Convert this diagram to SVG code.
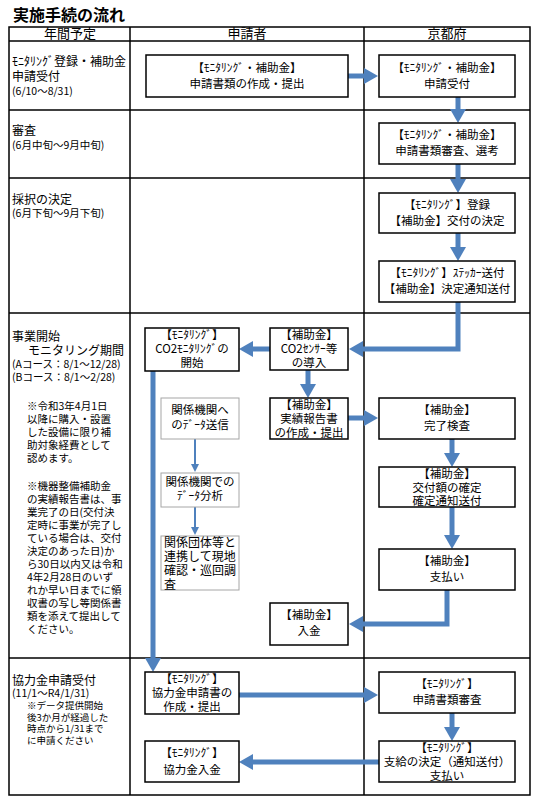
<svg xmlns="http://www.w3.org/2000/svg" width="536" height="800" viewBox="0 0 536 800">
<style>
text{font-family:"Noto Sans CJK JP","Noto Sans",sans-serif;fill:#000}
.t{font-size:12px}
.s{font-size:10.5px}
.n{font-size:10.5px}
.m{font-size:9.5px}
.c{font-size:11.5px;text-anchor:middle}
.h{font-size:13px;text-anchor:middle}
.grid{stroke:#000;stroke-width:1.5;fill:none}
.box{fill:#fff;stroke:#000;stroke-width:1.5}
.gbox{fill:#fff;stroke:#a6a6a6;stroke-width:1}
.arr{fill:none;stroke:#4f81bd;stroke-width:5;marker-end:url(#ah)}
.thin{fill:none;stroke:#4f81bd;stroke-width:2;marker-end:url(#ahs)}
</style>
<defs>
<marker id="ah" viewBox="0 0 14 16" refX="2" refY="8" markerWidth="14" markerHeight="16" markerUnits="userSpaceOnUse" orient="auto"><path d="M0 0L14 8L0 16Z" fill="#4f81bd"/></marker>
<marker id="ahs" viewBox="0 0 8 8" refX="1" refY="4" markerWidth="8" markerHeight="8" markerUnits="userSpaceOnUse" orient="auto"><path d="M0 0L8 4L0 8Z" fill="#4f81bd"/></marker>
</defs>
<rect width="536" height="800" fill="#fff"/>
<text x="13" y="21" style="font-size:16px;font-weight:bold">実施手続の流れ</text>
<g id="table">
<rect class="grid" x="9" y="27" width="521" height="768"/>
<line class="grid" x1="130" y1="27" x2="130" y2="795"/>
<line class="grid" x1="364" y1="27" x2="364" y2="795"/>
<line class="grid" x1="9" y1="41" x2="530" y2="41"/>
<line class="grid" x1="9" y1="110" x2="530" y2="110"/>
<line class="grid" x1="9" y1="178" x2="530" y2="178"/>
<line class="grid" x1="9" y1="313" x2="530" y2="313"/>
<line class="grid" x1="9" y1="658" x2="530" y2="658"/>
<text class="h" x="70" y="38">年間予定</text>
<text class="h" x="247" y="38">申請者</text>
<text class="h" x="447" y="38">京都府</text>
</g>
<g id="schedule">
<text class="t" x="12" y="66">ﾓﾆﾀﾘﾝｸﾞ登録・補助金</text>
<text class="t" x="12" y="81">申請受付</text>
<text class="s" x="12" y="95">(6/10～8/31)</text>
<text class="t" x="12" y="135">審査</text>
<text class="s" x="12" y="149">(6月中旬～9月中旬)</text>
<text class="t" x="12" y="204">採択の決定</text>
<text class="s" x="12" y="217">(6月下旬～9月下旬)</text>
<text class="t" x="12" y="341">事業開始</text>
<text class="t" x="28" y="355">モニタリング期間</text>
<text class="s" x="12" y="368">(Aコース：8/1～12/28)</text>
<text class="s" x="12" y="381">(Bコース：8/1～2/28)</text>
<text class="n" x="27" y="410">※令和3年4月1日</text>
<text class="n" x="27" y="423">以降に購入・設置</text>
<text class="n" x="27" y="436">した設備に限り補</text>
<text class="n" x="27" y="449">助対象経費として</text>
<text class="n" x="27" y="462">認めます。</text>
<text class="n" x="27" y="490">※機器整備補助金</text>
<text class="n" x="27" y="503">の実績報告書は、事</text>
<text class="n" x="27" y="516">業完了の日(交付決</text>
<text class="n" x="27" y="529">定時に事業が完了し</text>
<text class="n" x="27" y="542">ている場合は、交付</text>
<text class="n" x="27" y="555">決定のあった日)か</text>
<text class="n" x="27" y="568">ら30日以内又は令和</text>
<text class="n" x="27" y="581">4年2月28日のいず</text>
<text class="n" x="27" y="594">れか早い日までに領</text>
<text class="n" x="27" y="607">収書の写し等関係書</text>
<text class="n" x="27" y="620">類を添えて提出して</text>
<text class="n" x="27" y="633">ください。</text>
<text class="t" x="12" y="685">協力金申請受付</text>
<text class="s" x="12" y="697">(11/1～R4/1/31)</text>
<text class="m" x="27" y="709">※データ提供開始</text>
<text class="m" x="27" y="720.5">後3か月が経過した</text>
<text class="m" x="27" y="732">時点から1/31まで</text>
<text class="m" x="27" y="743.5">に申請ください</text>
</g>
<g id="connectors">
<path class="arr" d="M348 76H366"/>
<path class="arr" d="M458 97V111"/>
<path class="arr" d="M458 164V181"/>
<path class="arr" d="M458 233V249"/>
<path class="arr" d="M458 302V349H361"/>
<path class="arr" d="M270 349H251"/>
<path class="arr" d="M308 370V386"/>
<path class="arr" d="M348 418H366"/>
<path class="arr" d="M452 439V455"/>
<path class="arr" d="M452 507V537"/>
<path class="arr" d="M447 590V624H361"/>
<path class="arr" d="M153 371V660"/>
<path class="arr" d="M239 695H366"/>
<path class="arr" d="M452 713V729"/>
<path class="arr" d="M379 762H251"/>
<path class="thin" d="M195 439V465"/>
<path class="thin" d="M195 507V528"/>
</g>
<g id="a1"><rect class="box" x="146" y="55" width="202" height="42"/><text class="c" x="247" y="72">【ﾓﾆﾀﾘﾝｸﾞ・補助金】</text><text class="c" x="247" y="88">申請書類の作成・提出</text></g>
<g id="k1"><rect class="box" x="379" y="55" width="136" height="42"/><text class="c" x="447" y="72">【ﾓﾆﾀﾘﾝｸﾞ・補助金】</text><text class="c" x="447" y="88">申請受付</text></g>
<g id="k2"><rect class="box" x="379" y="123" width="136" height="41"/><text class="c" x="447" y="139">【ﾓﾆﾀﾘﾝｸﾞ・補助金】</text><text class="c" x="447" y="155">申請書類審査、選考</text></g>
<g id="k3"><rect class="box" x="379" y="193" width="136" height="40"/><text class="c" x="447" y="209">【ﾓﾆﾀﾘﾝｸﾞ】登録</text><text class="c" x="447" y="225">【補助金】交付の決定</text></g>
<g id="k4"><rect class="box" x="379" y="261" width="136" height="41"/><text class="c" x="447" y="277">【ﾓﾆﾀﾘﾝｸﾞ】ｽﾃｯｶｰ送付</text><text class="c" x="447" y="293">【補助金】決定通知送付</text></g>
<g id="a2"><rect class="box" x="145" y="328" width="94" height="43"/><text class="c" x="192" y="339">【ﾓﾆﾀﾘﾝｸﾞ】</text><text class="c" x="192" y="353">CO2ﾓﾆﾀﾘﾝｸﾞの</text><text class="c" x="192" y="367">開始</text></g>
<g id="a3"><rect class="box" x="270" y="328" width="78" height="42"/><text class="c" x="309" y="339">【補助金】</text><text class="c" x="309" y="353">CO2ｾﾝｻｰ等</text><text class="c" x="309" y="367">の導入</text></g>
<g id="g1"><rect class="gbox" x="161" y="398" width="78" height="41"/><text class="c" x="200" y="414">関係機関へ</text><text class="c" x="200" y="429">のﾃﾞｰﾀ送信</text></g>
<g id="a4"><rect class="box" x="270" y="398" width="78" height="41"/><text class="c" x="309" y="409">【補助金】</text><text class="c" x="309" y="423">実績報告書</text><text class="c" x="309" y="437">の作成・提出</text></g>
<g id="k5"><rect class="box" x="379" y="398" width="136" height="41"/><text class="c" x="447" y="414">【補助金】</text><text class="c" x="447" y="430">完了検査</text></g>
<g id="g2"><rect class="gbox" x="161" y="473" width="78" height="34"/><text class="c" x="200" y="486">関係機関での</text><text class="c" x="200" y="500">ﾃﾞｰﾀ分析</text></g>
<g id="k6"><rect class="box" x="379" y="467" width="136" height="40"/><text class="c" x="447" y="478">【補助金】</text><text class="c" x="447" y="492">交付額の確定</text><text class="c" x="447" y="505">確定通知送付</text></g>
<g id="g3"><rect class="gbox" x="161" y="536" width="78" height="54"/><text class="t" x="164" y="547">関係団体等と</text><text class="t" x="164" y="561">連携して現地</text><text class="t" x="164" y="575">確認・巡回調</text><text class="t" x="164" y="589">査</text></g>
<g id="k7"><rect class="box" x="379" y="549" width="136" height="41"/><text class="c" x="447" y="565">【補助金】</text><text class="c" x="447" y="581">支払い</text></g>
<g id="a5"><rect class="box" x="270" y="603" width="78" height="42"/><text class="c" x="309" y="619">【補助金】</text><text class="c" x="309" y="635">入金</text></g>
<g id="a6"><rect class="box" x="145" y="672" width="94" height="42"/><text class="c" x="192" y="683">【ﾓﾆﾀﾘﾝｸﾞ】</text><text class="c" x="192" y="697">協力金申請書の</text><text class="c" x="192" y="711">作成・提出</text></g>
<g id="k8"><rect class="box" x="379" y="672" width="136" height="41"/><text class="c" x="447" y="688">【ﾓﾆﾀﾘﾝｸﾞ】</text><text class="c" x="447" y="704">申請書類審査</text></g>
<g id="a7"><rect class="box" x="145" y="741" width="94" height="41"/><text class="c" x="192" y="757">【ﾓﾆﾀﾘﾝｸﾞ】</text><text class="c" x="192" y="774">協力金入金</text></g>
<g id="k9"><rect class="box" x="379" y="741" width="136" height="41"/><text class="c" x="447" y="752">【ﾓﾆﾀﾘﾝｸﾞ】</text><text class="c" x="447" y="766">支給の決定（通知送付）</text><text class="c" x="447" y="780">支払い</text></g>
</svg>
